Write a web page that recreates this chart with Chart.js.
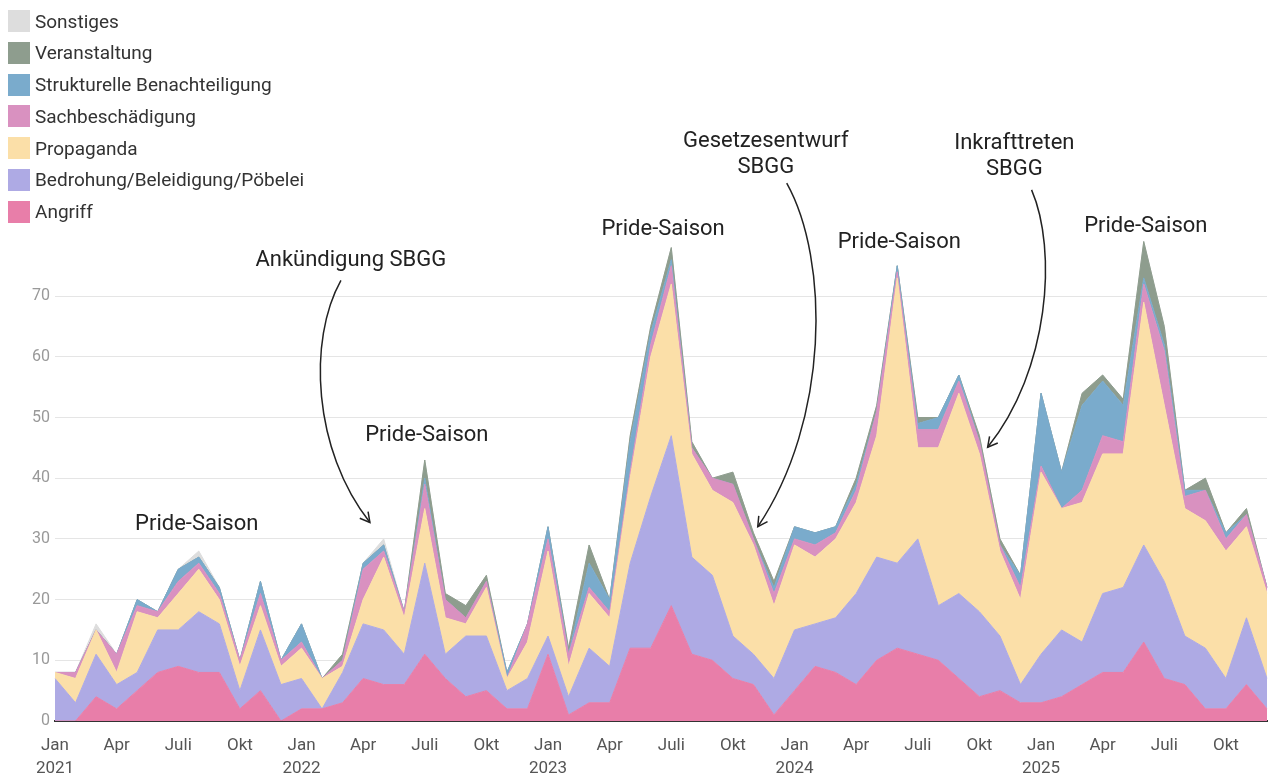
<!DOCTYPE html>
<html lang="de">
<head>
<meta charset="utf-8">
<title>Vorfälle pro Monat</title>
<script src="https://cdn.jsdelivr.net/npm/chart.js@4.4.1/dist/chart.umd.min.js"></script>
<style>
  body { margin: 0; background: #fff; font-family: Roboto, "Noto Sans", sans-serif; overflow: hidden; }
  #wrap { position: relative; width: 1271px; height: 774px; }
  #legend { position: absolute; left: 8px; top: 10px; z-index: 2; }
  #legend div { display: flex; align-items: center; height: 22px; margin-bottom: 9.8px; font-size: 19px; color: #333; }
  #legend span.box { width: 22px; height: 22px; margin-right: 5px; flex: none; }
</style>
</head>
<body>
<div id="wrap">
  <div id="legend"></div>
  <canvas id="myChart"></canvas>
</div>
<script>
const monthNames = ["Jan", "Feb", "Mär", "Apr", "Mai", "Juni", "Juli", "Aug", "Sep", "Okt", "Nov", "Dez"];
const years = [2021, 2022, 2023, 2024, 2025];
const yTicks = [0, 10, 20, 30, 40, 50, 60, 70];

// Werte pro Monat, Jan 2021 bis Dez 2025
const angriff = [0, 0, 4, 2, 5, 8, 9, 8, 8, 2, 5, 0, 2, 2, 3, 7, 6, 6, 11, 7, 4, 5, 2, 2, 11, 1, 3, 3, 12, 12, 19, 11, 10, 7, 6, 1, 5, 9, 8, 6, 10, 12, 11, 10, 7, 4, 5, 3, 3, 4, 6, 8, 8, 13, 7, 6, 2, 2, 6, 2];
const bedrohung = [7, 3, 7, 4, 3, 7, 6, 10, 8, 3, 10, 6, 5, 0, 5, 9, 9, 5, 15, 4, 10, 9, 3, 5, 3, 3, 9, 6, 14, 25, 28, 16, 14, 7, 5, 6, 10, 7, 9, 15, 17, 14, 19, 9, 14, 14, 9, 3, 8, 11, 7, 13, 14, 16, 16, 8, 10, 5, 11, 5];
const propaganda = [1, 4, 4, 2, 10, 2, 6, 7, 4, 4, 4, 3, 5, 5, 1, 4, 12, 6, 9, 6, 2, 8, 2, 6, 14, 5, 9, 8, 14, 23, 25, 17, 14, 22, 18, 12, 14, 11, 13, 15, 20, 47, 15, 26, 33, 26, 14, 14, 30, 20, 23, 23, 22, 40, 29, 21, 21, 21, 15, 14];
const sachbeschaedigung = [0, 1, 0, 3, 1, 1, 2, 1, 1, 1, 2, 1, 1, 0, 1, 5, 1, 1, 4, 3, 1, 1, 0, 3, 2, 2, 1, 1, 1, 2, 3, 1, 2, 3, 1, 2, 1, 2, 1, 2, 4, 1, 3, 3, 2, 2, 1, 2, 1, 0, 2, 3, 2, 3, 9, 2, 5, 2, 2, 1];
const strukturell = [0, 0, 0, 0, 1, 0, 2, 1, 1, 0, 2, 0, 3, 0, 0, 1, 1, 0, 1, 0, 0, 0, 1, 0, 2, 0, 4, 2, 5, 2, 1, 0, 0, 0, 0, 1, 2, 2, 1, 1, 0, 1, 1, 2, 1, 0, 0, 2, 12, 6, 14, 9, 6, 1, 1, 1, 0, 1, 0, 0];
const veranstaltung = [0, 0, 0, 0, 0, 0, 0, 0, 0, 0, 0, 0, 0, 0, 1, 0, 0, 0, 3, 1, 2, 1, 0, 0, 0, 1, 3, 0, 1, 1, 2, 1, 0, 2, 1, 1, 0, 0, 0, 1, 1, 0, 1, 0, 0, 1, 1, 0, 0, 0, 2, 1, 1, 6, 3, 0, 2, 0, 1, 0];
const sonstiges = [0, 0, 1, 0, 0, 0, 0, 1, 0, 0, 0, 0, 0, 0, 0, 0, 1, 0, 0, 0, 0, 0, 0, 0, 0, 0, 0, 0, 0, 0, 0, 0, 0, 0, 0, 0, 0, 0, 0, 0, 0, 0, 0, 0, 0, 0, 0, 0, 0, 0, 0, 0, 0, 0, 0, 0, 0, 0, 0, 0];

const series = [
  { label: "Angriff", data: angriff, color: "#e87ea9" },
  { label: "Bedrohung/Beleidigung/Pöbelei", data: bedrohung, color: "#aeaae4" },
  { label: "Propaganda", data: propaganda, color: "#fbdfa8" },
  { label: "Sachbeschädigung", data: sachbeschaedigung, color: "#d991c0" },
  { label: "Strukturelle Benachteiligung", data: strukturell, color: "#7aabcc" },
  { label: "Veranstaltung", data: veranstaltung, color: "#8e9d8e" },
  { label: "Sonstiges", data: sonstiges, color: "#dddddd" },
];

// Anmerkungen: Position in Monatsindex / Wert
const notes = [
  { lines: ["Pride-Saison"], x: 6.9, y: 32.3 },
  { lines: ["Ankündigung SBGG"], x: 14.4, y: 75.8 },
  { lines: ["Pride-Saison"], x: 18.1, y: 47.0 },
  { lines: ["Pride-Saison"], x: 29.6, y: 80.9 },
  { lines: ["Gesetzesentwurf", "SBGG"], x: 34.6, y: 95.4 },
  { lines: ["Pride-Saison"], x: 41.1, y: 78.9 },
  { lines: ["Inkrafttreten", "SBGG"], x: 46.7, y: 95.1 },
  { lines: ["Pride-Saison"], x: 53.1, y: 81.5 },
];
const arrows = [
  [[13.92, 72.6], [12.3, 62.8], [12.55, 44.6], [15.33, 32.7]],
  [[35.62, 88.6], [37.71, 75.9], [37.71, 49.6], [34.21, 32.0]],
  [[47.54, 87.5], [48.8, 77.6], [48.42, 57.8], [45.4, 45.1]],
];

const labels = [];
years.forEach((y) => monthNames.forEach((m) => labels.push(m + " " + y)));

const legend = document.getElementById("legend");
series.slice().reverse().forEach((s) => {
  const row = document.createElement("div");
  row.innerHTML = `<span class="box" style="background:${s.color}"></span>${s.label}`;
  legend.appendChild(row);
});

const notesPlugin = {
  id: "notes",
  afterDraw(chart) {
    const ctx = chart.ctx;
    const xs = chart.scales.x;
    const ys = chart.scales.y;
    const px = (p) => [xs.getPixelForValue(p[0]), ys.getPixelForValue(p[1])];
    ctx.save();
    ctx.fillStyle = "#222";
    ctx.font = "22px Roboto";
    ctx.textAlign = "center";
    ctx.textBaseline = "middle";
    notes.forEach((n) => {
      n.lines.forEach((t, i) => {
        ctx.fillText(t, xs.getPixelForValue(n.x), ys.getPixelForValue(n.y) + i * 26);
      });
    });
    ctx.strokeStyle = "#222";
    ctx.lineWidth = 1.5;
    arrows.forEach((a) => {
      const [p0, p1, p2, p3] = a.map(px);
      ctx.beginPath();
      ctx.moveTo(p0[0], p0[1]);
      ctx.bezierCurveTo(p1[0], p1[1], p2[0], p2[1], p3[0], p3[1]);
      ctx.stroke();
      const ang = Math.atan2(p3[1] - p2[1], p3[0] - p2[0]);
      ctx.beginPath();
      ctx.moveTo(p3[0] - 11 * Math.cos(ang - 0.5), p3[1] - 11 * Math.sin(ang - 0.5));
      ctx.lineTo(p3[0], p3[1]);
      ctx.lineTo(p3[0] - 11 * Math.cos(ang + 0.5), p3[1] - 11 * Math.sin(ang + 0.5));
      ctx.stroke();
    });
    ctx.restore();
  },
};

new Chart(document.getElementById("myChart"), {
  type: "line",
  data: {
    labels: labels,
    datasets: series.map((s, i) => ({
      label: s.label,
      data: s.data,
      backgroundColor: s.color,
      borderColor: s.color,
      borderWidth: 1,
      pointRadius: 0,
      tension: 0,
      fill: i === 0 ? "origin" : "-1",
    })),
  },
  options: {
    responsive: true,
    maintainAspectRatio: false,
    animation: false,
    layout: { padding: { top: 114, right: 0, left: 0, bottom: 0 } },
    plugins: { legend: { display: false }, tooltip: { enabled: false } },
    scales: {
      x: {
        z: 1,
        grid: { display: false, drawTicks: false },
        border: { color: "#333", width: 2 },
        afterFit: (s) => {
          s.height = 53;
          s.paddingLeft = 0;
          s.paddingRight = 4;
        },
        ticks: {
          autoSkip: false,
          maxRotation: 0,
          padding: 13,
          color: "#555",
          font: { family: "Roboto", size: 17, lineHeight: 1.35 },
          callback: (v, i) => {
            if (i % 3 !== 0) return "";
            const m = monthNames[i % 12];
            return i % 12 === 0 ? [m, String(years[i / 12])] : m;
          },
        },
      },
      y: {
        z: 1,
        stacked: true,
        min: 0,
        max: 100,
        afterBuildTicks: (axis) => { axis.ticks = yTicks.map((v) => ({ value: v })); },
        afterFit: (s) => { s.width = 55; },
        grid: { color: "rgba(0,0,0,0.1)", drawTicks: false },
        border: { display: false },
        ticks: { padding: 5, color: "#999", font: { family: "Roboto", size: 16 } },
      },
    },
  },
  plugins: [notesPlugin],
});
</script>
</body>
</html>
